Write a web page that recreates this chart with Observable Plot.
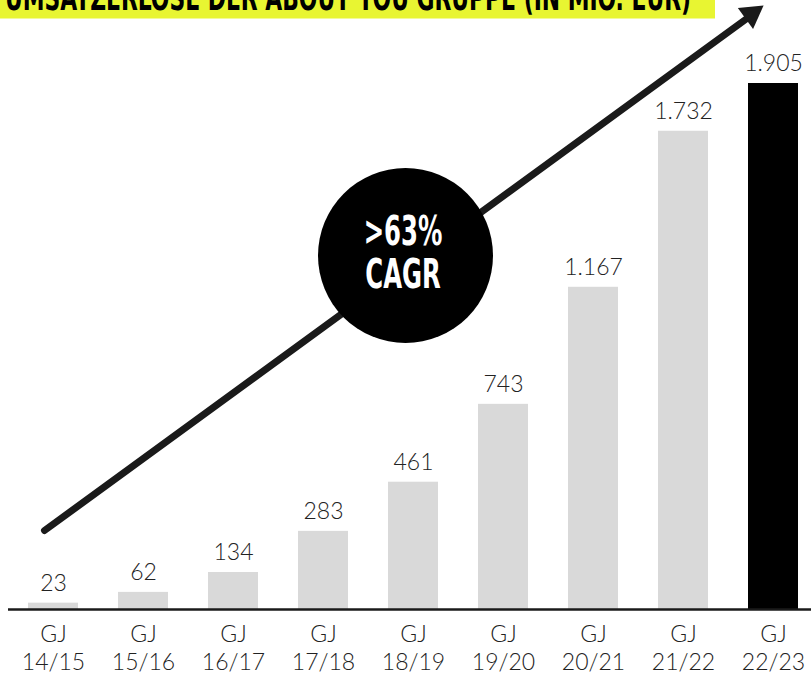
<!DOCTYPE html>
<html>
<head>
<meta charset="utf-8">
<script src="https://cdn.jsdelivr.net/npm/d3@7"></script>
<script src="https://cdn.jsdelivr.net/npm/@observablehq/plot@0.6"></script>
<style>
  html, body { margin: 0; padding: 0; background: #fff; }
  #wrap { position: relative; width: 811px; height: 673px; overflow: hidden; }
  #title { position: absolute; left: 0; top: 0; }
  #chart { position: absolute; left: 0; top: 0; }
</style>
</head>
<body>
<div id="wrap">
  <div id="chart"></div>
  <svg id="title" width="720" height="22"></svg>
</div>
<script>
// ---- data ----
const years = ["14/15", "15/16", "16/17", "17/18", "18/19", "19/20", "20/21", "21/22", "22/23"];
const revenue = [23, 62, 134, 283, 461, 743, 1167, 1732, 1905];
const highlightYear = "22/23";
const tickPrefix = "GJ";
const titleText = "UMSATZERLÖSE DER ABOUT YOU GRUPPE (IN MIO. EUR)";
const badgeText = ">63%\nCAGR";
// trend arrow annotation (data units)
const trendFromYear = ["14/15"];
const trendFromValue = [286];
const trendToYear = ["22/23"];
const trendToValue = [2187];
const headValue = [2156];
const badgeYear = ["18/19"];
const badgeValue = [1282];

// ---- build table ----
const data = years.map((year, i) => ({
  year,
  value: revenue[i],
  fill: year === highlightYear ? "#000000" : "#d9d9d9"
}));
const trend = trendFromYear.map((y, i) => ({
  x1: y, y1: trendFromValue[i], x2: trendToYear[i], y2: trendToValue[i], hy: headValue[i]
}));
const badge = badgeYear.map((y, i) => ({ x: y, y: badgeValue[i], text: badgeText }));

const fmt = d3.formatLocale({decimal: ",", thousands: ".", grouping: [3], currency: ["", "€"]}).format(",");
const labelFont = "Lato, 'Open Sans', sans-serif";

const plot = Plot.plot({
  width: 811,
  height: 673,
  marginLeft: 8,
  marginRight: 0,
  marginTop: 0,
  marginBottom: 0,
  x: {type: "band", domain: years, range: [8, 818], paddingInner: 0.444, paddingOuter: 0.222, axis: null},
  y: {domain: [0, 1905], range: [609, 83], axis: null},
  style: {fontFamily: labelFont, background: "transparent", overflow: "visible"},
  marks: [
    Plot.barY(data, {x: "year", y: "value", fill: "fill"}),
    Plot.ruleY([0], {stroke: "#1a1a1a", strokeWidth: 2.5}),
    Plot.text(data, {x: "year", y: "value", text: d => fmt(d.value), dy: -20, fontSize: 23, fontWeight: 300, fill: "#222"}),
    Plot.text(years, {x: d => d, y: () => 0, text: d => tickPrefix + "\n" + d, lineAnchor: "top", dy: 13, lineHeight: 1.2, fontSize: 23, fontWeight: 300, fill: "#222"}),
    Plot.arrow(trend, {x1: "x1", y1: "y1", x2: "x2", y2: "y2", dx: -9, stroke: "#1a1a1a", strokeWidth: 7, headLength: 0, insetEnd: 12}),
    Plot.dot(trend, {x: "x2", y: "hy", dx: -22, symbol: "triangle", r: 9.6, rotate: 54, fill: "#1a1a1a", stroke: "none"}),
    Plot.dot(badge, {x: "x", y: "y", dx: -8, r: 87.5, fill: "#000", stroke: "none"}),
    Plot.text(badge, {x: "x", y: "y", dx: -10.5, dy: -2.5, text: "text", fontSize: 41, fontWeight: "bold", lineHeight: 1.05, fill: "#fff", fontFamily: "'DejaVu Sans Condensed', 'DejaVu Sans', sans-serif"})
  ]
});
document.getElementById("chart").appendChild(plot);

// narrow the badge lettering horizontally (condensed display face)
d3.select(plot).selectAll("text").filter(function() { return this.textContent.includes("CAGR"); })
  .each(function() {
    const b = this.getBBox();
    const cx = b.x + b.width / 2;
    const t = this.getAttribute("transform") || "";
    this.setAttribute("transform", `${t} translate(${cx},0) scale(0.66,1) translate(${-cx},0)`);
  });

// title (cropped at top as in the reference)
const ts = d3.select("#title");
ts.append("rect").attr("x", 0).attr("y", 0).attr("width", 715).attr("height", 18.5).attr("fill", "#e8f532");
ts.append("text")
  .attr("x", 5).attr("y", 9.5)
  .attr("textLength", 686).attr("lengthAdjust", "spacingAndGlyphs")
  .attr("font-family", "'DejaVu Sans Condensed', 'DejaVu Sans', sans-serif")
  .attr("font-weight", "bold").attr("font-size", 36).attr("fill", "#000")
  .text(titleText);
</script>
</body>
</html>
